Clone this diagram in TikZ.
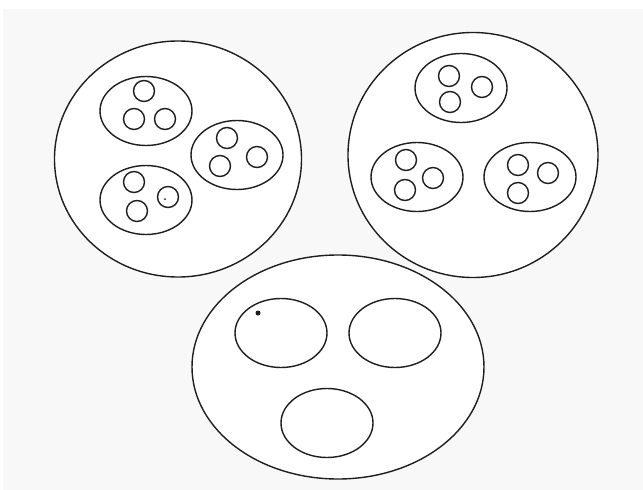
\documentclass[tikz,border=0pt]{standalone}
\usepackage{xcolor}
\usepackage{tikz}
\usetikzlibrary{shapes.geometric}
\definecolor{ink}{HTML}{1E1E1E}
\definecolor{paper}{HTML}{F8F8F8}

\begin{document}
\begin{tikzpicture}[x=1pt, y=-1pt,
  blob/.style={ellipse, draw=ink, line width=1.4pt, inner sep=0pt},
  cell/.style={blob, minimum width=92pt, minimum height=69pt},
  dot/.style={circle, draw=ink, line width=1.4pt, minimum size=21pt, inner sep=0pt}]
\useasboundingbox (0,0) rectangle (643,490);
\fill[white] (0,0) rectangle (643,490);
\fill[paper] (3,9) rectangle (643,490);
% white insides of the big sets
\fill[white] (178,159) ellipse (123.5pt and 118pt);
\fill[white] (473,155) ellipse (125pt and 122.5pt);
\fill[white] (338,367) ellipse (146pt and 112pt);
% the three big sets
\node[blob, minimum width=247pt, minimum height=236pt] (setA) at (178,159) {};
\node[blob, minimum width=250pt, minimum height=245pt] (setB) at (473,155) {};
\node[blob, minimum width=292pt, minimum height=224pt] (setC) at (338,367) {};
% groups inside the first two sets
\foreach \n/\x/\y in {A1/146/111, A2/237/155, A3/146/200, B1/461/88, B2/417/177, B3/530/177} {
  \node[cell] (g\n) at (\x,\y) {};
}
% groups inside the third set
\foreach \n/\x/\y in {C1/281/333, C2/395/333, C3/327/423} {
  \node[cell] (g\n) at (\x,\y) {};
}
% members
\foreach \n/\x/\y in {A1a/144/91, A1b/134/119, A1c/165/119,
                      A2a/227/138, A2b/257/157, A2c/220/166,
                      A3a/134/182, A3b/168/197, A3c/137/211,
                      B1a/449/76, B1b/482/87, B1c/450/102,
                      B2a/406/160, B2b/433/178, B2c/405/190,
                      B3a/518/165, B3b/548/173, B3c/518/193} {
  \node[dot] (m\n) at (\x,\y) {};
}
\node[circle, fill=ink, minimum size=2pt, inner sep=0pt] (speck) at (165,199) {};
\node[circle, fill=ink, minimum size=5pt, inner sep=0pt] (spot) at (258,313) {};
\end{tikzpicture}
\end{document}
